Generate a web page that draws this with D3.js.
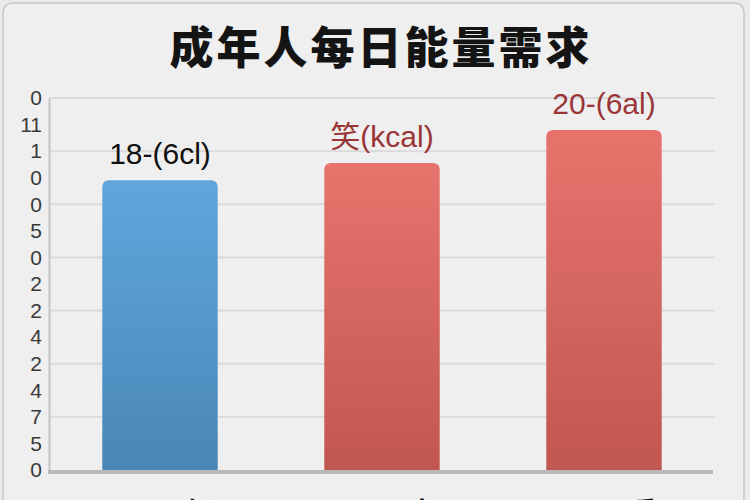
<!DOCTYPE html>
<html><head><meta charset="utf-8">
<script src="https://cdn.jsdelivr.net/npm/d3@7"></script>
<style>
html,body{margin:0;padding:0;background:#ebebeb;overflow:hidden;}
svg{display:block;}
</style></head>
<body>
<svg id="chart" width="750" height="500"></svg>
<script>
const title = "成年人每日能量需求";
const categories = ["轻体力活动", "中体力活动", "重体力活动"];
const values = [2180, 2310, 2560];
const barLabels = ["18-(6cl)", "笑(kcal)", "20-(6al)"];
const barColorKeys = ["blue", "red", "red"];
const yTickLabels = ["0","5","7","4","2","4","2","2","0","5","0","0","1","11","0"];
const yMax = 2800;

const svg = d3.select("#chart");
const W = 750, H = 500;
const m = {left: 49, right: 715, top: 98, bottom: 470};

const defs = svg.append("defs");
const grads = {blue: ["#5fa7de", "#4a86b5"], red: ["#e8736d", "#c15751"]};
Object.entries(grads).forEach(([k, c]) => {
  const g = defs.append("linearGradient").attr("id", "g-" + k)
    .attr("x1", 0).attr("y1", 0).attr("x2", 0).attr("y2", 1);
  g.append("stop").attr("offset", "0%").attr("stop-color", c[0]);
  g.append("stop").attr("offset", "100%").attr("stop-color", c[1]);
});

// frame
svg.append("rect").attr("x", 3).attr("y", 3).attr("width", 741).attr("height", 530)
  .attr("rx", 9).attr("fill", "#efefef").attr("stroke", "#c6c6c6").attr("stroke-width", 1.5);

// title
svg.append("text").attr("x", 381).attr("y", 64).attr("text-anchor", "middle")
  .attr("font-family", "'Noto Sans CJK SC', sans-serif").attr("font-weight", 900)
  .attr("font-size", 44).attr("letter-spacing", 3).attr("fill", "#141414").text(title);

const x = d3.scaleBand().domain(categories).range([m.left, m.right])
  .paddingInner(0.48).paddingOuter(0.24);
const y = d3.scaleLinear().domain([0, yMax]).range([m.bottom, m.top]);

// gridlines
svg.append("g").selectAll("line").data(d3.range(400, yMax + 1, 400)).join("line")
  .attr("x1", m.left).attr("x2", m.right)
  .attr("y1", d => y(d)).attr("y2", d => y(d))
  .attr("stroke", "#dadada").attr("stroke-width", 2);

// y axis with custom labels
const yTicks = d3.range(0, yMax + 1, 200);
const yAxis = d3.axisLeft(y).tickValues(yTicks)
  .tickFormat((d, i) => yTickLabels[i]).tickSize(0).tickPadding(7);
const ya = svg.append("g").attr("transform", `translate(${m.left},0)`).call(yAxis);
ya.select(".domain").attr("stroke", "#c4c4c4").attr("stroke-width", 2);
ya.selectAll("text").attr("font-family", "'Liberation Sans', Arial, sans-serif")
  .attr("font-size", 21).attr("fill", "#3a3a3a");

// bars with rounded tops
const r = 7;
function barPath(x0, w, yTop, yBot) {
  return `M${x0},${yBot}V${yTop + r}Q${x0},${yTop} ${x0 + r},${yTop}H${x0 + w - r}Q${x0 + w},${yTop} ${x0 + w},${yTop + r}V${yBot}Z`;
}
svg.append("g").selectAll("path").data(values).join("path")
  .attr("d", (d, i) => barPath(x(categories[i]), x.bandwidth(), y(d), y(0)))
  .attr("fill", (d, i) => `url(#g-${barColorKeys[i]})`);

// baseline
svg.append("line").attr("x1", m.left - 1).attr("x2", m.right - 2)
  .attr("y1", y(0) + 2).attr("y2", y(0) + 2)
  .attr("stroke", "#b9b9b9").attr("stroke-width", 4);

// bar value labels
svg.append("g").selectAll("text").data(values).join("text")
  .attr("x", (d, i) => x(categories[i]) + x.bandwidth() / 2)
  .attr("y", d => y(d) - 16)
  .attr("text-anchor", "middle")
  .attr("font-family", "'Liberation Sans', 'Noto Sans CJK SC', sans-serif")
  .attr("font-size", 30)
  .attr("fill", (d, i) => barColorKeys[i] === "blue" ? "#111" : "#9a3537")
  .text((d, i) => barLabels[i]);

// category labels (mostly below visible area)
svg.append("g").selectAll("text").data(categories).join("text")
  .attr("x", d => x(d) + x.bandwidth() / 2 + 40)
  .attr("y", 523)
  .attr("text-anchor", "middle")
  .attr("font-family", "'Noto Sans CJK SC', sans-serif").attr("font-weight", 700)
  .attr("font-size", 28).attr("fill", "#111")
  .text(d => d.slice(0, 1));
</script>
</body></html>
